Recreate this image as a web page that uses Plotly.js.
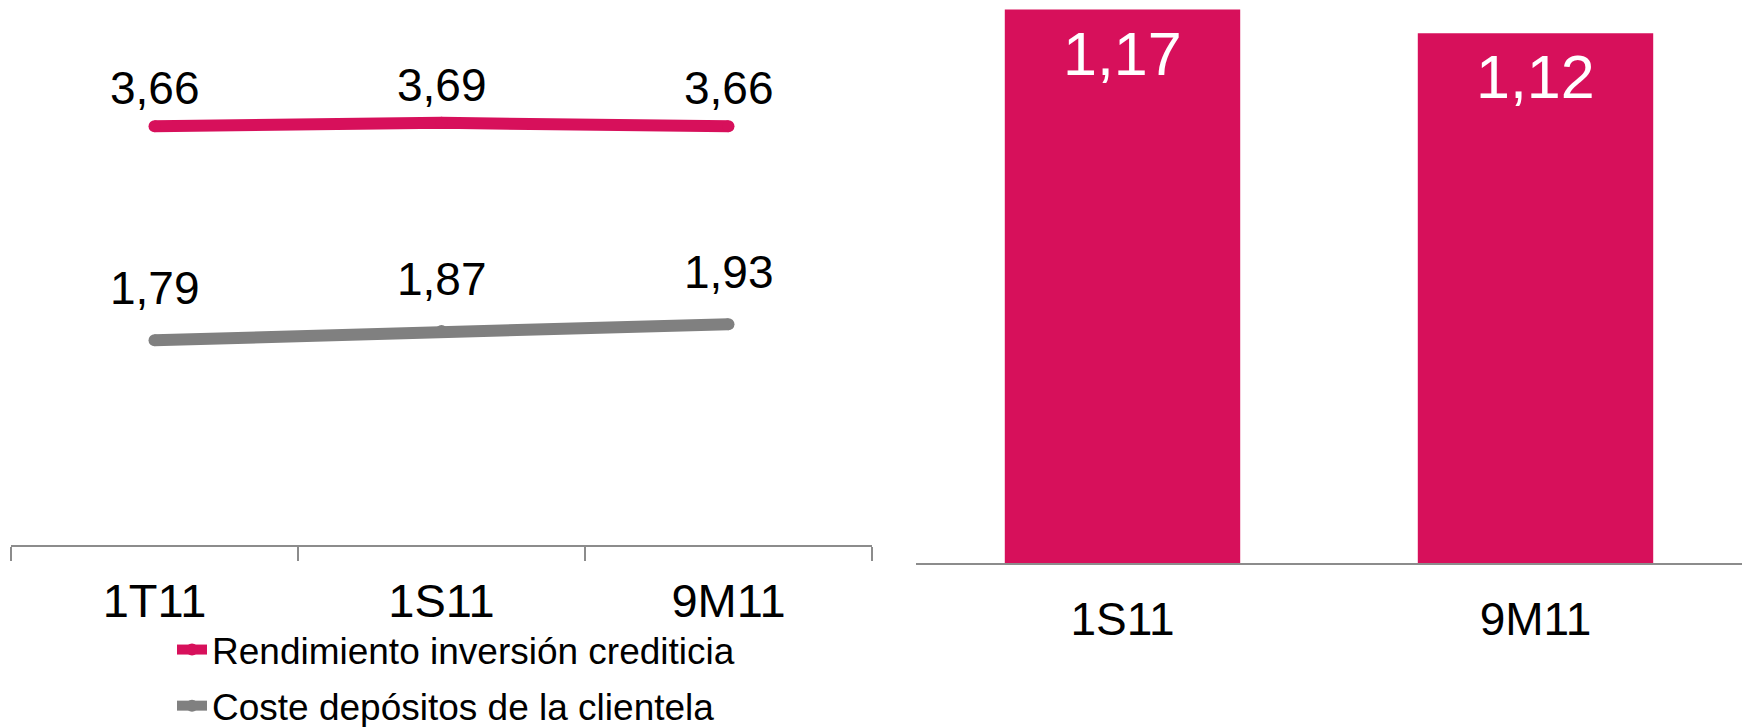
<!DOCTYPE html>
<html>
<head>
<meta charset="utf-8">
<script src="https://cdn.plot.ly/plotly-3.0.1.min.js"></script>
<style>
  html, body { margin: 0; padding: 0; background: #ffffff; }
  #chart { width: 1742px; height: 727px; }
</style>
</head>
<body>
<div id="chart"></div>
<script>
// ---- data ----
const lineCategories = ['1T11', '1S11', '9M11'];
const rendimientoValues = [3.66, 3.69, 3.66];
const costeValues = [1.79, 1.87, 1.93];
const seriesNames = ['Rendimiento inversión crediticia', 'Coste depósitos de la clientela'];

const barCategories = ['1S11', '9M11'];
const barValues = [1.17, 1.12];

// ---- styles ----
const PINK = '#D7105B';
const GREY = '#808080';
const AXIS = '#8C8C8C';
const FONT = '"Liberation Sans", Arial, sans-serif';
const W = 1742, H = 727;

const fmt = v => v.toFixed(2).replace('.', ',');

const traces = [
  {
    type: 'scatter', mode: 'lines+markers',
    x: lineCategories, y: rendimientoValues,
    name: seriesNames[0], legendgroup: 'a',
    line: { color: PINK, width: 12 },
    marker: { color: PINK, size: 12 },
    xaxis: 'x', yaxis: 'y', hoverinfo: 'skip'
  },
  {
    type: 'scatter', mode: 'lines+markers',
    x: lineCategories, y: costeValues,
    name: seriesNames[1], legendgroup: 'b',
    line: { color: GREY, width: 12 },
    marker: { color: GREY, size: 12 },
    xaxis: 'x', yaxis: 'y', hoverinfo: 'skip'
  },
  {
    type: 'bar',
    x: barCategories, y: barValues,
    marker: { color: PINK },
    showlegend: false,
    xaxis: 'x2', yaxis: 'y2', hoverinfo: 'skip'
  }
];

const annotations = [];
rendimientoValues.forEach((v, i) => annotations.push({
  xref: 'x', yref: 'y', x: lineCategories[i], y: v, text: fmt(v),
  showarrow: false, yanchor: 'middle', yshift: 38,
  font: { family: FONT, size: 46, color: '#000' }
}));
costeValues.forEach((v, i) => annotations.push({
  xref: 'x', yref: 'y', x: lineCategories[i], y: v, text: fmt(v),
  showarrow: false, yanchor: 'middle', yshift: 52,
  font: { family: FONT, size: 46, color: '#000' }
}));
barValues.forEach((v, i) => annotations.push({
  xref: 'x2', yref: 'y2', x: barCategories[i], y: v, text: fmt(v),
  showarrow: false, yanchor: 'top', yshift: -8,
  font: { family: FONT, size: 61, color: '#fff' }
}));

const layout = {
  width: W, height: H,
  margin: { l: 0, r: 0, t: 0, b: 0, pad: 0, autoexpand: false },
  paper_bgcolor: '#fff', plot_bgcolor: 'rgba(0,0,0,0)',
  font: { family: FONT, color: '#000' },
  showlegend: true,
  legend: {
    orientation: 'v', x: 172 / W, xanchor: 'left', y: (H - 619) / H, yanchor: 'top',
    font: { family: FONT, size: 37, color: '#000' },
    tracegroupgap: 5, bgcolor: 'rgba(0,0,0,0)'
  },
  bargap: 0.43,
  xaxis: {
    domain: [11 / W, 872 / W], anchor: 'y', type: 'category',
    range: [-0.5, 2.5], fixedrange: true,
    showline: true, linecolor: AXIS, linewidth: 2,
    ticks: 'outside', tickson: 'boundaries', ticklen: 14, tickwidth: 2, tickcolor: AXIS,
    ticklabelstandoff: 14,
    showgrid: false, zeroline: false,
    tickfont: { family: FONT, size: 47, color: '#000' }
  },
  yaxis: {
    domain: [(H - 545) / H, 1], anchor: 'x',
    range: [0, 545 / 114.4], visible: false, fixedrange: true
  },
  xaxis2: {
    domain: [916 / W, 1], anchor: 'y2', type: 'category',
    range: [-0.5, 1.5], fixedrange: true,
    showline: true, linecolor: AXIS, linewidth: 2,
    ticks: '', showgrid: false, zeroline: false,
    ticklabelstandoff: 15,
    tickfont: { family: FONT, size: 46, color: '#000' }
  },
  yaxis2: {
    domain: [(H - 563) / H, 1], anchor: 'x2',
    range: [0, 563 / 473], visible: false, fixedrange: true
  },
  annotations: annotations
};

Plotly.newPlot('chart', traces, layout, { displayModeBar: false, staticPlot: true });
</script>
</body>
</html>
